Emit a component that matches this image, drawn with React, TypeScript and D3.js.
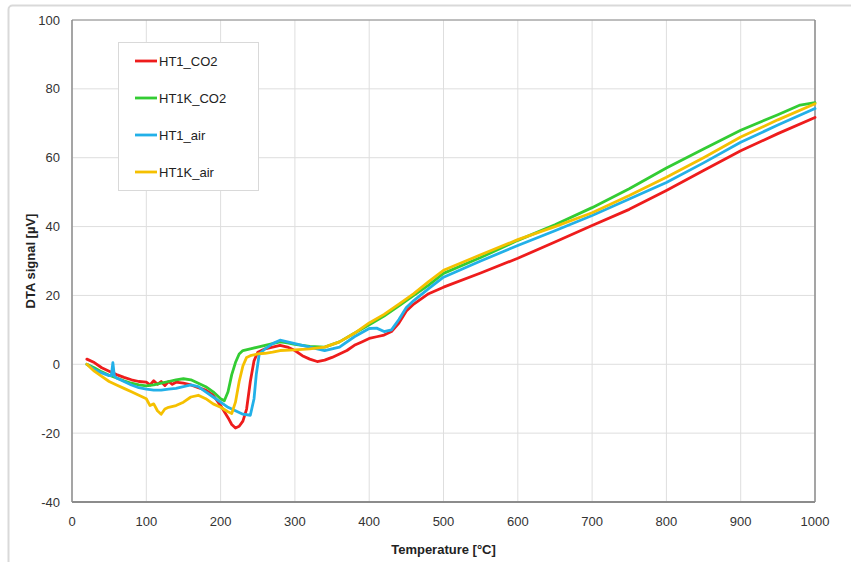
import React from "react";
import * as d3 from "d3";

// DTA signal [µV] vs temperature [°C], one array of [T, signal] pairs per sample
const ht1Co2: [number, number][] = [
  [20, 1.5], [30, 0.5], [40, -1], [50, -2], [60, -3], [70, -3.8], [80, -4.5], [90, -5],
  [100, -5.2], [105, -6], [110, -4.8], [115, -5.8], [120, -5], [125, -6.2], [130, -5],
  [135, -5.8], [140, -5.2], [150, -5.5], [160, -6], [170, -6.8], [180, -7.5], [190, -9],
  [200, -12], [210, -15.5], [215, -17.5], [220, -18.5], [225, -18], [230, -16.5], [235, -13],
  [240, -5], [245, 1], [250, 3.5], [260, 4.5], [270, 5], [280, 5.5], [290, 5], [300, 4],
  [310, 2.5], [320, 1.5], [330, 0.8], [340, 1.2], [350, 2], [360, 3], [370, 4], [380, 5.5],
  [390, 6.5], [400, 7.5], [410, 8], [420, 8.5], [430, 9.5], [440, 12], [450, 15.5],
  [460, 17.5], [470, 19], [480, 20.5], [500, 22.4], [550, 26.5], [600, 30.8], [650, 35.5],
  [700, 40.3], [750, 45], [800, 50.5], [850, 56.3], [900, 62], [950, 67], [1000, 71.7],
];

const ht1kCo2: [number, number][] = [
  [20, 0], [30, -1], [40, -2.2], [50, -3.2], [60, -4], [70, -4.8], [80, -5.5], [90, -6],
  [100, -6.3], [110, -6], [120, -5.5], [130, -5], [140, -4.5], [150, -4.2], [160, -4.5],
  [170, -5.5], [180, -6.5], [190, -8], [200, -10], [205, -10.6], [210, -8], [215, -3],
  [220, 0.5], [225, 3], [230, 4], [240, 4.5], [250, 5], [260, 5.5], [270, 6], [280, 6.5],
  [290, 6.2], [300, 5.8], [320, 5.2], [340, 5], [360, 6.5], [380, 9], [400, 11.5], [420, 14],
  [440, 17], [460, 20], [480, 23], [500, 26.4], [550, 31], [600, 36], [650, 40.5],
  [700, 45.5], [750, 51], [800, 57], [850, 62.5], [900, 68], [950, 72.5], [980, 75.3],
  [1000, 76],
];

const ht1Air: [number, number][] = [
  [20, 0], [30, -1.5], [40, -2.5], [50, -3.3], [53, -3.3], [55, 0.5], [57, -3.4], [60, -4],
  [70, -5], [80, -6], [90, -6.8], [100, -7.2], [110, -7.5], [120, -7.5], [130, -7.2],
  [140, -7], [150, -6.5], [160, -6], [170, -6.5], [180, -8], [190, -9.5], [200, -11],
  [210, -12.5], [220, -13.5], [230, -14.5], [240, -14.8], [245, -10], [248, -3], [252, 3],
  [260, 4.5], [270, 6], [280, 7], [290, 6.5], [300, 6], [320, 5], [340, 4], [360, 5],
  [380, 8], [400, 10.4], [410, 10.5], [420, 9.5], [430, 10], [440, 13], [450, 16.5],
  [460, 18.5], [480, 22], [500, 25.3], [550, 30], [600, 34.5], [650, 38.8], [700, 43.2],
  [750, 48], [800, 52.8], [850, 58.5], [900, 64.5], [950, 69.5], [1000, 74.3],
];

const ht1kAir: [number, number][] = [
  [20, 0], [30, -2], [40, -3.5], [50, -5], [60, -6], [70, -7], [80, -8], [90, -9],
  [100, -10], [105, -12], [110, -11.5], [115, -13.5], [120, -14.5], [125, -13], [130, -12.5],
  [140, -12], [150, -11], [160, -9.5], [170, -9], [180, -10], [190, -11.5], [200, -12.5],
  [210, -13.8], [215, -14.3], [220, -11], [225, -5], [230, -0.5], [235, 2], [240, 2.5],
  [250, 3], [260, 3.2], [270, 3.5], [280, 4], [300, 4.2], [320, 4.5], [340, 5], [360, 6.5],
  [380, 9], [400, 12], [420, 14.5], [440, 17.5], [460, 20.5], [480, 24], [500, 27.3],
  [550, 31.8], [600, 36.2], [650, 40], [700, 44], [750, 49], [800, 54.3], [850, 60],
  [900, 66], [950, 71], [1000, 75.7],
];

const seriesNames = ["HT1_CO2", "HT1K_CO2", "HT1_air", "HT1K_air"];
const seriesData = [ht1Co2, ht1kCo2, ht1Air, ht1kAir];
const seriesColors = ["#ee1c1c", "#33cc33", "#22b0e8", "#f5c000"];

const xTicks = [0, 100, 200, 300, 400, 500, 600, 700, 800, 900, 1000];
const yTicks = [-40, -20, 0, 20, 40, 60, 80, 100];

const W = 851;
const H = 562;
const plot = { left: 72, right: 815, top: 20, bottom: 502 };
const font = "Liberation Sans, Arial, sans-serif";

export default function App() {
  const x = d3.scaleLinear().domain([0, 1000]).range([plot.left, plot.right]);
  const y = d3.scaleLinear().domain([-40, 100]).range([plot.bottom, plot.top]);
  const line = d3
    .line<[number, number]>()
    .x((d) => x(d[0]))
    .y((d) => y(d[1]))
    .curve(d3.curveLinear);

  const legend = { x: 118, y: 42, w: 140, h: 148 };

  return (
    <svg
      width={W}
      height={H}
      style={{ position: "absolute", left: 0, top: 0, background: "#fff" }}
      fontFamily={font}
    >
      {/* chart frame */}
      <rect x={8.5} y={5.5} width={860} height={580} rx={4} fill="#fff" stroke="#d9d9d9" strokeWidth={2} />

      {/* gridlines */}
      {xTicks.map((t) => (
        <line key={"gx" + t} x1={x(t)} x2={x(t)} y1={plot.top} y2={plot.bottom} stroke="#dedede" strokeWidth={1} />
      ))}
      {yTicks.map((t) => (
        <line key={"gy" + t} x1={plot.left} x2={plot.right} y1={y(t)} y2={y(t)} stroke="#dedede" strokeWidth={1} />
      ))}

      {/* plot border */}
      <line x1={plot.left} x2={plot.right} y1={plot.top} y2={plot.top} stroke="#8c8c8c" strokeWidth={1} />
      <line x1={plot.right} x2={plot.right} y1={plot.top} y2={plot.bottom} stroke="#8c8c8c" strokeWidth={1.5} />
      <line x1={plot.left} x2={plot.left} y1={plot.top} y2={plot.bottom} stroke="#8c8c8c" strokeWidth={1.5} />
      <line x1={plot.left} x2={plot.right} y1={plot.bottom} y2={plot.bottom} stroke="#8c8c8c" strokeWidth={2} />

      {/* tick labels */}
      {yTicks.map((t) => (
        <text key={"ty" + t} x={60} y={y(t)} dy="0.35em" textAnchor="end" fontSize={13} fill="#333">
          {t}
        </text>
      ))}
      {xTicks.map((t) => (
        <text key={"tx" + t} x={x(t)} y={526} textAnchor="middle" fontSize={13} fill="#333">
          {t}
        </text>
      ))}

      {/* axis titles */}
      <text
        transform={`translate(35,${(plot.top + plot.bottom) / 2}) rotate(-90)`}
        textAnchor="middle"
        fontSize={13}
        fontWeight="bold"
        fill="#222"
      >
        DTA signal [µV]
      </text>
      <text x={(plot.left + plot.right) / 2} y={554} textAnchor="middle" fontSize={13} fontWeight="bold" fill="#222">
        Temperature [°C]
      </text>

      {/* series */}
      {seriesData.map((d, i) => (
        <path
          key={seriesNames[i]}
          d={line(d) ?? ""}
          fill="none"
          stroke={seriesColors[i]}
          strokeWidth={2.8}
          strokeLinejoin="round"
          strokeLinecap="round"
        />
      ))}

      {/* legend */}
      <rect x={legend.x + 0.5} y={legend.y + 0.5} width={legend.w} height={legend.h} fill="#fff" stroke="#d9d9d9" />
      {seriesNames.map((n, i) => {
        const ly = 61 + i * 37;
        return (
          <g key={"lg" + n}>
            <line x1={135} x2={157} y1={ly} y2={ly} stroke={seriesColors[i]} strokeWidth={2.8} />
            <text x={159} y={ly} dy="0.35em" fontSize={13} fill="#222">
              {n}
            </text>
          </g>
        );
      })}
    </svg>
  );
}
